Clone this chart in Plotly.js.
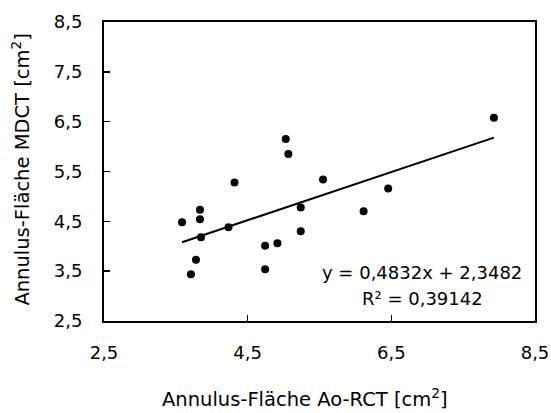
<!DOCTYPE html>
<html>
<head>
<meta charset="utf-8">
<script src="https://cdn.plot.ly/plotly-3.0.1.min.js"></script>
<style>html,body{margin:0;padding:0;background:#fff;}#chart{width:551px;height:413px;}</style>
</head>
<body>
<div id="chart"></div>
<script>
// Data
const aoRct = [4.317, 3.586, 3.836, 3.836, 3.850, 4.233, 3.780, 3.710, 4.743, 4.914, 4.743, 5.239, 5.239, 5.030, 5.067, 5.549, 6.456, 6.114, 7.928];
const mdct  = [5.28, 4.48, 4.73, 4.54, 4.18, 4.38, 3.73, 3.44, 4.01, 4.06, 3.54, 4.78, 4.30, 6.15, 5.85, 5.34, 5.16, 4.70, 6.58];
const slope = 0.4832;
const intercept = 2.3482;
const tickVals = [2.5, 4.5, 6.5, 8.5];
const tickText = ['2,5', '4,5', '6,5', '8,5'];
const yTickVals = [2.5, 3.5, 4.5, 5.5, 6.5, 7.5, 8.5];
const yTickText = ['2,5', '3,5', '4,5', '5,5', '6,5', '7,5', '8,5'];
const eqText = 'y = 0,4832x + 2,3482';
const r2Text = 'R² = 0,39142';
const xTitle = 'Annulus-Fläche Ao-RCT [cm<sup>2</sup>]';
const yTitle = 'Annulus-Fläche MDCT [cm<sup>2</sup>]';

const xMin = Math.min(...aoRct), xMax = Math.max(...aoRct);
const trendX = [xMin, xMax];
const trendY = trendX.map(v => slope * v + intercept);

const FONT = 'DejaVu Sans, sans-serif';

const data = [
  {x: trendX, y: trendY, mode: 'lines', type: 'scatter', line: {color: '#000', width: 2}, hoverinfo: 'skip'},
  {x: aoRct, y: mdct, mode: 'markers', type: 'scatter', marker: {color: '#000', size: 8}}
];

const L = 103.5, R = 16, T = 22, B = 92;
const pw = 551 - L - R, ph = 413 - T - B;

const layout = {
  width: 551, height: 413,
  margin: {l: L, r: R, t: T, b: B},
  paper_bgcolor: '#fff', plot_bgcolor: '#fff',
  showlegend: false,
  font: {family: FONT, size: 18, color: '#000'},
  xaxis: {
    range: [2.5, 8.5], tickvals: tickVals, ticktext: tickText,
    ticks: 'inside', ticklen: 6, tickwidth: 1.5, tickcolor: '#000',
    showline: true, linecolor: '#000', linewidth: 2, mirror: true,
    showgrid: false, zeroline: false, ticklabelstandoff: 14,
    tickfont: {family: FONT, size: 18, color: '#000'}
  },
  yaxis: {
    range: [2.5, 8.5], tickvals: yTickVals, ticktext: yTickText,
    ticks: 'inside', ticklen: 6, tickwidth: 1.5, tickcolor: '#000',
    showline: true, linecolor: '#000', linewidth: 2, mirror: true,
    showgrid: false, zeroline: false, ticklabelstandoff: 16,
    tickfont: {family: FONT, size: 18, color: '#000'}
  },
  annotations: [
    {x: 6.93, y: 3.47, xref: 'x', yref: 'y', text: eqText, showarrow: false, xanchor: 'center', yanchor: 'middle', font: {family: FONT, size: 18, color: '#000'}},
    {x: 6.93, y: 2.95, xref: 'x', yref: 'y', text: r2Text, showarrow: false, xanchor: 'center', yanchor: 'middle', font: {family: FONT, size: 18, color: '#000'}},
    {x: (305 - L) / pw, y: 1 - (412 - T) / ph, xref: 'paper', yref: 'paper', text: xTitle, showarrow: false, xanchor: 'center', yanchor: 'bottom', borderpad: 0, font: {family: FONT, size: 19.5, color: '#000'}},
    {x: (20 - L) / pw, y: 1 - (170 - T) / ph, xref: 'paper', yref: 'paper', text: yTitle, showarrow: false, textangle: -90, xanchor: 'center', yanchor: 'middle', font: {family: FONT, size: 19.5, color: '#000'}}
  ]
};

Plotly.newPlot('chart', data, layout, {displayModeBar: false, staticPlot: true});
</script>
</body>
</html>
